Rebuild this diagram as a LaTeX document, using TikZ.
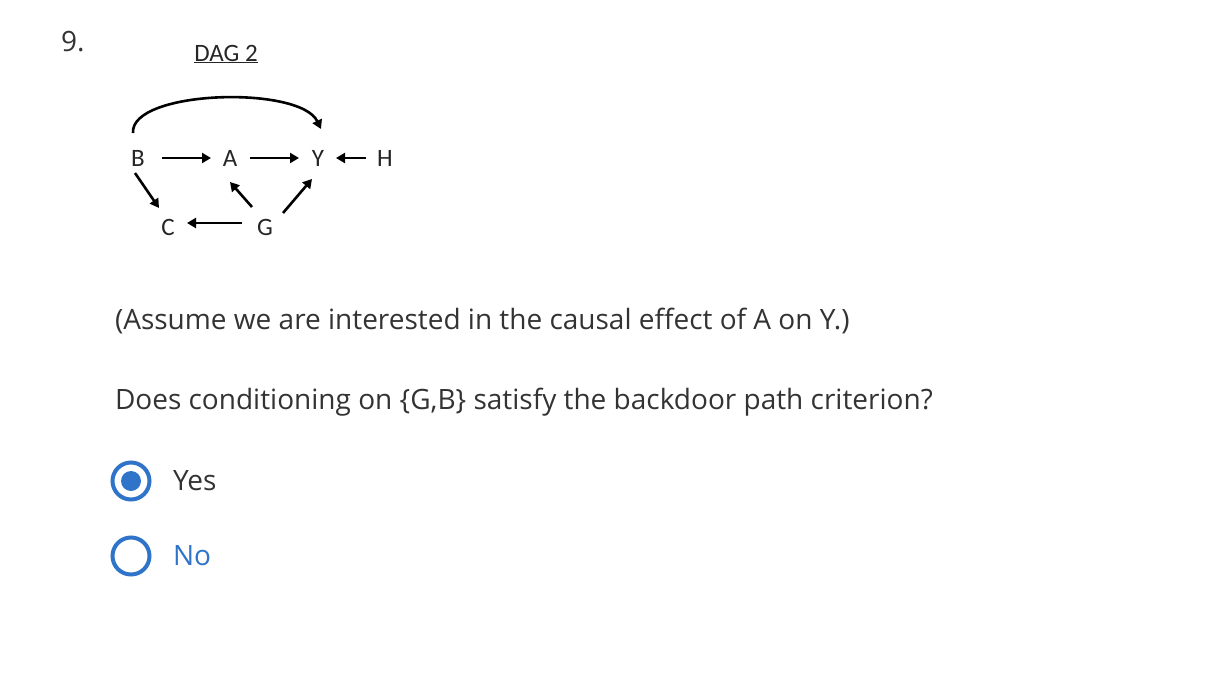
\documentclass[tikz,border=0pt]{standalone}
\usepackage{fontspec}
\setmainfont{Open Sans}
\newfontfamily\dagfont{Carlito}
\usetikzlibrary{arrows.meta}
\definecolor{txt}{HTML}{333333}
\definecolor{rblue}{HTML}{2F74C8}
\begin{document}
\begin{tikzpicture}[x=1pt,y=-1pt,
  every node/.style={inner sep=0pt,outer sep=0pt},
  var/.style={font=\dagfont\fontsize{25}{28}\selectfont, text=black!85, inner sep=1pt},
  body/.style={font=\fontsize{28}{33}\selectfont, text=txt, anchor=west},
  edge/.style={line width=2.6pt, -{Triangle[length=9pt,width=10pt]}, shorten >=0pt},
  radio/.style={draw=rblue, line width=4pt, circle, minimum size=37pt}]
\useasboundingbox (0,0) rectangle (1216,696);
\node[body] (num) at (61,42) {9.};
\node[var] (title) at (226,54) {\underline{DAG 2}};
\node[var] (B) at (138,158) {B};
\node[var] (A) at (230,158) {A};
\node[var] (Y) at (318,158) {Y};
\node[var] (H) at (385,158) {H};
\node[var] (C) at (168,227) {C};
\node[var] (G) at (265,227) {G};
\coordinate (bA1) at (162,158); \coordinate (bA2) at (211,158);
\coordinate (aY1) at (250,158); \coordinate (aY2) at (299,158);
\coordinate (hY1) at (366,158); \coordinate (hY2) at (336,158);
\coordinate (bC1) at (135,173); \coordinate (bC2) at (159,208);
\coordinate (gA1) at (252,207); \coordinate (gA2) at (230,182);
\coordinate (gY1) at (283,213); \coordinate (gY2) at (312,179);
\coordinate (gC1) at (242,223); \coordinate (gC2) at (187,223);
\coordinate (cb1) at (133,133); \coordinate (cb2) at (321,129);
\draw[edge] (bA1) -- (bA2);
\draw[edge] (aY1) -- (aY2);
\draw[edge] (hY1) -- (hY2);
\draw[edge] (bC1) -- (bC2);
\draw[edge] (gA1) -- (gA2);
\draw[edge] (gY1) -- (gY2);
\draw[edge] (gC1) -- (gC2);
\draw[edge] (cb1) .. controls (130,90) and (300,85) .. (cb2);
\node[body] (q1) at (115,321) {(Assume we are interested in the causal effect of A on Y.)};
\node[body] (q2) at (115,402) {Does conditioning on \{G,B\} satisfy the backdoor path criterion?};
\node[radio] (r1) at (131,481) {};
\node[circle, fill=rblue, minimum size=20pt] (r1dot) at (r1) {};
\node[body] (yes) at (173,481) {Yes};
\node[radio] (r2) at (131,556) {};
\node[body, text=rblue] (no) at (173,556) {No};
\end{tikzpicture}
\end{document}
